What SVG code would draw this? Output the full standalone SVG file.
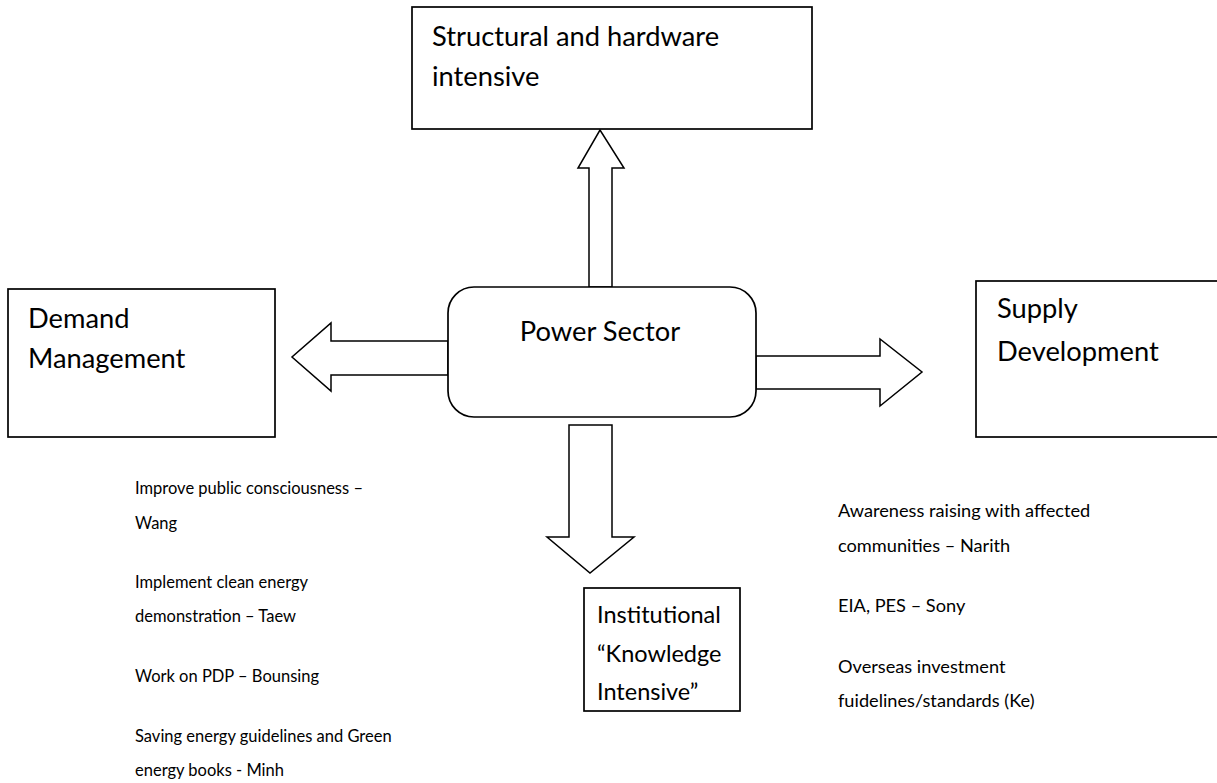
<svg xmlns="http://www.w3.org/2000/svg" width="1217" height="783" viewBox="0 0 1217 783">
<style>
.box{fill:#fff;stroke:#000;stroke-width:1.7}
.arr{fill:#fff;stroke:#000;stroke-width:1.5;stroke-linejoin:miter}
.lbl{font-family:Lato,"Liberation Sans",sans-serif;font-size:27.3px;fill:#000}
.inst{font-family:Lato,"Liberation Sans",sans-serif;font-size:23.5px;fill:#000}
.lstL{font-family:Lato,"Liberation Sans",sans-serif;font-size:16.5px;fill:#000}
.lstR{font-family:Lato,"Liberation Sans",sans-serif;font-size:18.2px;fill:#000}
</style>
<rect width="1217" height="783" fill="#fff"/>
<g id="connectors">
<polygon class="arr" points="589,287 589,168 578,168 600,130 624,168 612,168 612,287"/>
<polygon class="arr" points="448,341 331,341 331,323 292,357 331,391 331,375 448,375"/>
<polygon class="arr" points="756,356 880,356 880,339 922,372 880,406 880,389 756,389"/>
<polygon class="arr" points="569,425 612,425 612,537 634,537 590,573 547,537 569,537"/>
</g>
<g id="structural">
<rect class="box" x="412" y="7" width="400" height="122"/>
<text class="lbl" x="432" y="46">Structural and hardware</text>
<text class="lbl" x="432" y="86">intensive</text>
</g>
<g id="power">
<rect class="box" x="448" y="287" width="308" height="130" rx="26" ry="26"/>
<text class="lbl" x="600" y="341" text-anchor="middle">Power Sector</text>
</g>
<g id="demand">
<rect class="box" x="8" y="289" width="267" height="148"/>
<text class="lbl" x="28" y="328">Demand</text>
<text class="lbl" x="28" y="368">Management</text>
</g>
<g id="supply">
<rect class="box" x="976" y="281" width="260" height="156"/>
<text class="lbl" x="997" y="318">Supply</text>
<text class="lbl" x="997" y="361">Development</text>
</g>
<g id="institutional">
<rect class="box" x="584" y="588" width="156" height="123"/>
<text class="inst" x="597" y="623">Institutional</text>
<text class="inst" x="597" y="662">“Knowledge</text>
<text class="inst" x="597" y="700">Intensive”</text>
</g>
<g id="demand-notes">
<text class="lstL" x="135" y="494">Improve public consciousness –</text>
<text class="lstL" x="135" y="529">Wang</text>
<text class="lstL" x="135" y="588">Implement clean energy</text>
<text class="lstL" x="135" y="622">demonstration – Taew</text>
<text class="lstL" x="135" y="682">Work on PDP – Bounsing</text>
<text class="lstL" x="135" y="742">Saving energy guidelines and Green</text>
<text class="lstL" x="135" y="776">energy books - Minh</text>
</g>
<g id="supply-notes">
<text class="lstR" x="838" y="517">Awareness raising with affected</text>
<text class="lstR" x="838" y="552">communities – Narith</text>
<text class="lstR" x="838" y="612">EIA, PES – Sony</text>
<text class="lstR" x="838" y="673">Overseas investment</text>
<text class="lstR" x="838" y="707">fuidelines/standards (Ke)</text>
</g>
</svg>
